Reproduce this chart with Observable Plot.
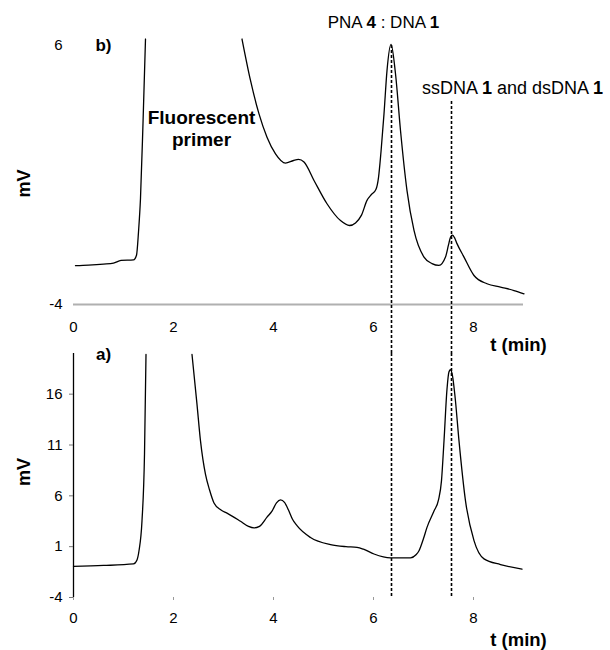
<!DOCTYPE html>
<html><head><meta charset="utf-8">
<script src="https://cdn.jsdelivr.net/npm/d3@7"></script>
<script src="https://cdn.jsdelivr.net/npm/@observablehq/plot@0.6"></script>
<style>
body{margin:0;background:#fff;}
#wrap{position:relative;width:610px;height:650px;background:#fff;}
#wrap svg{position:absolute;left:0;top:0;}
#wrap svg g[aria-label$="tick label"]{font-size:15px;}
</style></head><body><div id="wrap"></div>
<script>
// ---- data ----
const xTicks = [0, 2, 4, 6, 8];
const yTicksTop = [-4, 6];
const yTicksBottom = [-4, 1, 6, 11, 16];
const markerT = [6.36, 7.56];          // dashed guide lines (min)
const markerTopStart = [6.0, 3.84];    // mV where each guide starts in panel b

// panel b) — PNA 4 : DNA 1 (null = off-scale gap)
const tTop = [0.04,0.3,0.6,0.8,0.95,1.2,1.26,1.3,1.34,1.39,1.44,2.4,
  3.37,3.54,3.71,3.87,4.04,4.24,4.40,4.50,4.61,4.81,5.07,5.34,5.52,5.64,5.76,5.87,5.96,6.05,6.10,6.15,6.21,6.27,6.35,6.44,6.54,6.67,6.81,7.01,7.17,7.31,7.44,7.50,7.54,7.58,7.62,7.67,7.81,8.01,8.27,8.54,8.81,9.01];
const mvTop = [-2.50,-2.48,-2.44,-2.40,-2.30,-2.28,-2.1,-1.2,0.1,3.0,6.25,null,
  6.25,4.65,3.36,2.46,1.82,1.46,1.56,1.60,1.50,0.79,-0.11,-0.76,-0.95,-0.85,-0.55,0.02,0.25,0.45,0.9,1.9,3.36,5.03,6.04,4.91,2.72,0.40,-1.14,-2.17,-2.42,-2.49,-2.17,-1.7,-1.40,-1.32,-1.42,-1.65,-2.17,-2.88,-3.2,-3.33,-3.46,-3.59];

// panel a) — ssDNA 1 and dsDNA 1
const tBottom = [0.0,0.6,1.2,1.27,1.31,1.37,1.42,1.45,1.9,
  2.37,2.47,2.54,2.64,2.72,2.81,2.95,3.07,3.34,3.50,3.61,3.72,3.87,3.97,4.06,4.14,4.22,4.30,4.38,4.47,4.74,5.14,5.45,5.67,5.80,6.01,6.34,6.74,6.85,6.91,7.00,7.07,7.21,7.30,7.36,7.41,7.47,7.51,7.54,7.58,7.63,7.71,7.84,8.01,8.21,8.54,8.97];
const mvBottom = [-0.93,-0.85,-0.70,-0.3,0.6,3.55,10.1,19.9,null,
  19.9,15.0,11.4,8.1,6.6,5.3,4.6,4.3,3.5,3.0,2.85,3.0,3.9,4.5,5.3,5.6,5.35,4.6,3.7,3.06,1.9,1.2,1.0,0.93,0.75,0.28,-0.1,-0.1,0.2,0.6,1.8,2.9,4.5,5.6,7.5,11.4,16.5,18.2,18.4,17.8,15.8,11.4,5.5,1.6,-0.2,-0.76,-1.2];

// ---- build ----
const font = "'Liberation Sans', Arial, Helvetica, sans-serif";
const topRows = tTop.map((t, i) => ({t, mv: mvTop[i]}));
const botRows = tBottom.map((t, i) => ({t, mv: mvBottom[i]}));
const markers = markerT.map((t, i) => ({t, start: markerTopStart[i]}));
const W = 610, H = 650;
const fmt = d => String(d);
const common = {width: W, height: H, marginLeft: 73, marginRight: 87,
  x: {domain: [0, 9]},
  style: {fontFamily: font, fontSize: "15px", background: "transparent", overflow: "visible", color: "black"}};

const topPlot = Plot.plot({
  ...common,
  marginTop: 45, marginBottom: 346,
  y: {domain: [-4, 6]},
  marks: [
    Plot.ruleY([-4], {stroke: "#b0b0b0", strokeWidth: 2}),
    Plot.axisX(xTicks, {tickSize: 0, tickPadding: 17, label: null, fontSize: 15, tickFormat: fmt}),
    Plot.axisY(yTicksTop, {tickSize: 0, tickPadding: 11, label: null, fontSize: 15, tickFormat: fmt}),
    Plot.ruleX(markers, {x: "t", y1: "start", y2: -5.9, stroke: "black", strokeWidth: 1.6, strokeDasharray: "3,2"}),
    Plot.line(topRows, {x: "t", y: "mv", curve: "monotone-x", stroke: "black", strokeWidth: 1.3}),
    Plot.text(["b)"], {x: 0.6, y: 6.0, fontWeight: "bold", fontSize: 17}),
    Plot.text(["Fluorescent\nprimer"], {x: 2.56, y: 2.8, fontWeight: "bold", fontSize: 19, lineHeight: 1.16}),
    Plot.text(["PNA 4 : DNA 1"], {x: 6.2, y: 6.89, fontSize: 17}),
    Plot.text(["ssDNA 1 and dsDNA 1"], {x: 8.78, y: 4.34, fontSize: 18}),
    Plot.text(["t (min)"], {x: 8.9, y: -5.58, fontWeight: "bold", fontSize: 18.5}),
    Plot.text(["mV"], {x: -0.98, y: 0.67, fontWeight: "bold", fontSize: 18, rotate: -90})
  ]
});

const botPlot = Plot.plot({
  ...common,
  marginTop: 353, marginBottom: 53,
  y: {domain: [-4, 20]},
  marks: [
    Plot.ruleX([0], {stroke: "black", strokeWidth: 1.3}),
    Plot.axisX(xTicks, {tickSize: 3, tickPadding: 12, stroke: "#999", label: null, fontSize: 15, tickFormat: fmt}),
    Plot.axisY(yTicksBottom, {tickSize: 4, tickPadding: 7, stroke: "#777", label: null, fontSize: 15, tickFormat: fmt}),
    Plot.ruleX(markers, {x: "t", y1: 20, y2: -4, stroke: "black", strokeWidth: 1.6, strokeDasharray: "3,2"}),
    Plot.line(botRows, {x: "t", y: "mv", curve: "monotone-x", stroke: "black", strokeWidth: 1.3}),
    Plot.text(["a)"], {x: 0.6, y: 19.92, fontWeight: "bold", fontSize: 17}),
    Plot.text(["t (min)"], {x: 8.9, y: -8.22, fontWeight: "bold", fontSize: 18.5}),
    Plot.text(["mV"], {x: -0.98, y: 8.35, fontWeight: "bold", fontSize: 18, rotate: -90})
  ]
});

// bold compound numbers inside the annotation labels
function boldDigits(svg) {
  d3.select(svg).selectAll("text").each(function() {
    const s = this.textContent;
    if (s === "PNA 4 : DNA 1" || s === "ssDNA 1 and dsDNA 1") {
      const parts = s.split(/(\d)/);
      const sel = d3.select(this);
      sel.text(null);
      parts.forEach(p => { if (p) sel.append("tspan").attr("font-weight", /\d/.test(p) ? "bold" : null).text(p); });
    }
  });
}
boldDigits(topPlot);
const wrap = document.getElementById("wrap");
wrap.append(topPlot, botPlot);
</script>
</body></html>
